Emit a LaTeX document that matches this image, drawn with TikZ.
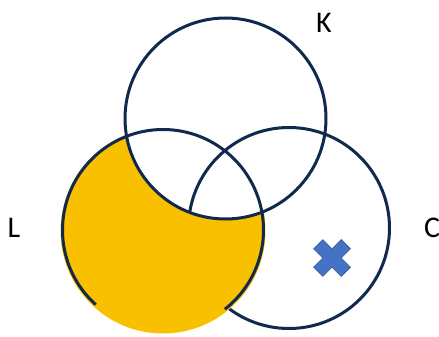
\documentclass[tikz,border=0pt]{standalone}
\usepackage{fontspec}
\setmainfont{Carlito}
\definecolor{navy}{HTML}{11284F}
\definecolor{gold}{HTML}{F9C000}
\definecolor{xblue}{HTML}{4472C4}
\definecolor{xedge}{HTML}{2F528F}
\tikzset{
  setcircle/.style={circle, draw=navy, line width=3pt, minimum size=201pt, inner sep=0pt},
  setline/.style={draw=navy, line width=3pt},
  setlabel/.style={font=\fontsize{30}{30}\selectfont, text=black, inner sep=0pt}
}
\begin{document}
\begin{tikzpicture}[x=1pt,y=-1pt]
\useasboundingbox (0,0) rectangle (439,337);
\clip (0,0) rectangle (439,337);
% C circle first (its arc inside the yellow area is covered)
\node[setcircle] (C) at (289,228) {};
% yellow fill: L minus K
\begin{scope}
\clip (163,231) circle (102.5);
\fill[gold, even odd rule] (0,0) rectangle (439,337) (225.5,118.5) circle (101);
\end{scope}
% K and L outlines
\node[setcircle] (K) at (225.5,118.5) {};
\node[setcircle, draw=none] (L) at (163,230) {};
\draw[setline] (L.center) ++(132:100.5) arc[start angle=132, end angle=412, radius=100.5];
% cross
\begin{scope}[shift={(332,258)}, rotate=45]
\filldraw[fill=xblue, draw=xedge, line width=0.6pt]
  (-6.5,-19.5) -- (6.5,-19.5) -- (6.5,-6.5) -- (19.5,-6.5) -- (19.5,6.5) -- (6.5,6.5)
  -- (6.5,19.5) -- (-6.5,19.5) -- (-6.5,6.5) -- (-19.5,6.5) -- (-19.5,-6.5) -- (-6.5,-6.5) -- cycle;
\end{scope}
% labels
\node[setlabel] (lK) at (324,23) {K};
\node[setlabel] (lL) at (14,228) {L};
\node[setlabel] (lC) at (432,228) {C};
\end{tikzpicture}
\end{document}
